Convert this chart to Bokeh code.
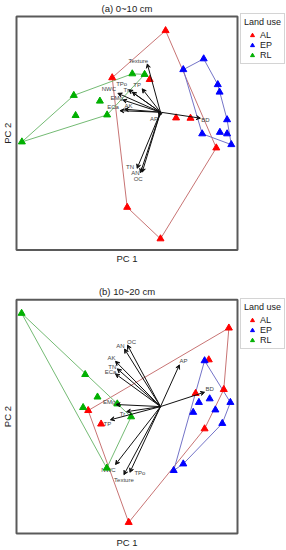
import math
from bokeh.plotting import figure
from bokeh.models import ColumnDataSource, Arrow, VeeHead, Legend, LegendItem, Range1d
from bokeh.embed import file_html
from bokeh.resources import INLINE
from bokeh.core.properties import value

# ---------------- data ----------------
groups = ["AL", "EP", "RL"]
variables = ["Texture", "TP", "TPo", "Tr", "NWC", "EMg", "ECa", "AK", "AP", "BD", "TN", "AN", "OC"]
titles = ["(a) 0~10 cm", "(b) 10~20 cm"]

# (a) 0~10 cm  -- PC scores
AL_a_x = [0.17, -1.61, -0.36, 0.52, 1.00, 1.86, -1.11, 0.00]
AL_a_y = [2.72, 1.15, 1.09, -0.19, -0.20, -1.19, -3.17, -4.22]
EP_a_x = [0.76, 1.44, 1.91, 1.97, 2.22, 1.98, 2.22, 1.39, 2.36]
EP_a_y = [1.42, 1.78, 0.92, 0.67, -0.25, -0.67, -0.72, -0.72, -1.08]
RL_a_x = [-0.94, -0.53, -2.89, -2.02, -2.83, -1.78, -4.62]
RL_a_y = [1.28, 1.26, 0.56, 0.37, -0.11, -0.09, -0.99]
load_a_x = [-0.44, -0.61, -1.06, -0.94, -1.42, -1.26, -1.35, -1.20, -0.05, 1.33, -0.78, -0.67, -0.61]
load_a_y = [1.61, 0.78, 0.75, 0.67, 0.63, 0.41, 0.05, 0.10, -0.14, -0.20, -1.87, -2.02, -2.00]

# (b) 10~20 cm
AL_b_x = [2.28, 1.61, 2.11, 1.17, -2.41, -1.98, 1.47, -1.06]
AL_b_y = [2.62, 1.56, 0.57, 0.44, -0.13, -0.58, -0.74, -3.86]
EP_b_x = [1.47, 1.28, 1.64, 2.33, 1.09, 1.83, 2.06, 0.76, 0.44]
EP_b_y = [1.53, 0.14, 0.26, 0.14, -0.19, -0.11, -0.56, -1.91, -2.13]
RL_b_x = [-4.63, -2.51, -2.10, -2.58, -1.44, -0.98, -1.79]
RL_b_y = [3.11, 1.07, 0.32, -0.03, 0.09, -0.34, -2.05]
load_b_x = [-1.22, -1.67, -1.02, -1.13, -1.50, -1.48, -1.50, -1.50, 0.63, 1.47, -1.44, -1.20, -1.10]
load_b_y = [-2.27, -0.44, -2.19, -0.17, -1.93, 0.07, 1.09, 1.51, 1.39, 0.48, 1.26, 1.92, 2.05]

# panel axis ranges (PC units)
X_RANGE = (-4.8, 2.567)
Y_RANGE_A = (-4.59, 3.19)
Y_RANGE_B = (-4.23, 3.56)

# ---------------- layout / styles ----------------
W, H = 286, 550                 # canvas (page 0..286, 0..550)
PX_L, PX_R = 16.0, 237.0        # x of the panel frames
A_TOP_PX, B_TOP_PX = 16.0, 299.3
SY = 30.0                       # px per PC unit, vertical
SX = (PX_R - PX_L) / (X_RANGE[1] - X_RANGE[0])

point_colors = {"AL": "#ff0000", "EP": "#0000ff", "RL": "#00b000"}
hull_colors = {"AL": "#c87474", "EP": "#7474c8", "RL": "#74bb74"}
lab_dx_a = [-9, -5, -7, -6, -9, -6, -7, 4, -5, 5, -7, -5, -4]
lab_dy_a = [-3, -4, -6, -2, -4, -2, -4, -3, 3, 2, -1, 0, 7]
lab_dx_b = [0, -3, 10, -4, -7, -7, -5, -4, 4, 5, -5, -4, 4]
lab_dy_b = [5, 4, 1, 2, 5, -3, -2, -3, -4, -3, -2, -3, -3]
FONT = "Liberation Sans"

origin_a_px = A_TOP_PX + Y_RANGE_A[1] * SY
origin_b_px = B_TOP_PX + Y_RANGE_B[1] * SY
shift_b = (origin_b_px - origin_a_px) / SY
fig_x = (X_RANGE[0] - PX_L / SX, X_RANGE[1] + (W - PX_R) / SX)
fig_y = ((origin_a_px - H) / SY, origin_a_px / SY)


def hull(xs, ys):
    pts = sorted(set(zip(xs, ys)))

    def cross(o, a, b):
        return (a[0] - o[0]) * (b[1] - o[1]) - (a[1] - o[1]) * (b[0] - o[0])

    lower, upper = [], []
    for q in pts:
        while len(lower) >= 2 and cross(lower[-2], lower[-1], q) <= 0:
            lower.pop()
        lower.append(q)
    for q in reversed(pts):
        while len(upper) >= 2 and cross(upper[-2], upper[-1], q) <= 0:
            upper.pop()
        upper.append(q)
    h = lower[:-1] + upper[:-1]
    h.append(h[0])
    return [q[0] for q in h], [q[1] for q in h]


p = figure(frame_width=W, frame_height=H, x_range=Range1d(*fig_x), y_range=Range1d(*fig_y),
           output_backend="svg", toolbar_location=None, x_axis_type=None, y_axis_type=None,
           min_border=0, min_border_left=0, min_border_right=0, min_border_top=0,
           min_border_bottom=0)
p.outline_line_color = None
p.background_fill_color = "white"
p.border_fill_color = "white"

# panel frames
tops = [Y_RANGE_A[1], Y_RANGE_B[1] - shift_b]
bots = [Y_RANGE_A[0], Y_RANGE_B[0] - shift_b]
p.quad(left=[X_RANGE[0]] * 2, right=[X_RANGE[1]] * 2, top=tops, bottom=bots,
       fill_color=None, line_color="#5a5a5a", line_width=2)

# titles and axis labels
xc = (X_RANGE[0] + X_RANGE[1]) / 2
txt = dict(text_font=value(FONT), text_font_size="9.5px", text_color="#222222",
           text_align="center", text_baseline="middle")
p.text(x=[xc, xc], y=tops, text=titles, y_offset=-8, **txt)
p.text(x=[xc, xc], y=bots, text=["PC 1", "PC 1"], y_offset=9, **txt)
p.text(x=[X_RANGE[0]] * 2, y=[(t + b) / 2 for t, b in zip(tops, bots)], text=["PC 2", "PC 2"],
       x_offset=-9, angle=math.pi / 2, **txt)

panels = [
    ({"AL": (AL_a_x, AL_a_y), "EP": (EP_a_x, EP_a_y), "RL": (RL_a_x, RL_a_y)},
     load_a_x, load_a_y, lab_dx_a, lab_dy_a, 0.0, 240, 486),
    ({"AL": (AL_b_x, AL_b_y), "EP": (EP_b_x, EP_b_y), "RL": (RL_b_x, RL_b_y)},
     load_b_x, load_b_y, lab_dx_b, lab_dy_b, shift_b, 240, 201),
]

for pts, lx, ly, dx, dy, sh, leg_x, leg_y in panels:
    for g in groups:
        hx, hy = hull(pts[g][0], [v - sh for v in pts[g][1]])
        p.line(hx, hy, line_color=hull_colors[g], line_width=1)

    src = ColumnDataSource(dict(x0=[0.0] * len(lx), y0=[-sh] * len(lx), x1=lx,
                                y1=[v - sh for v in ly], name=variables, dx=dx, dy=dy))
    p.add_layout(Arrow(x_start="x0", y_start="y0", x_end="x1", y_end="y1", source=src,
                       line_color="#111111", line_width=1,
                       end=VeeHead(size=4, line_color="#111111", line_width=1)))
    p.text(x="x1", y="y1", text="name", source=src, x_offset="dx", y_offset="dy",
           text_font=value(FONT), text_font_size="6px", text_color="#444444",
           text_align="center", text_baseline="middle")

    rends = {}
    for g in groups:
        rends[g] = p.scatter(pts[g][0], [v - sh for v in pts[g][1]], marker="triangle", size=7,
                             fill_color=point_colors[g], line_color=point_colors[g])

    legend = Legend(items=[LegendItem(label=g, renderers=[rends[g]]) for g in groups],
                    title="Land use", location=(leg_x, leg_y))
    legend.title_text_font = FONT
    legend.title_text_font_size = "9px"
    legend.title_text_font_style = "normal"
    legend.title_text_color = "#222222"
    legend.label_text_font = FONT
    legend.label_text_font_size = "9px"
    legend.label_text_color = "#222222"
    legend.glyph_width = 16
    legend.glyph_height = 10
    legend.label_height = 10
    legend.label_width = 12
    legend.label_standoff = 0
    legend.spacing = 0
    legend.padding = 3
    legend.margin = 0
    legend.title_standoff = 3
    legend.border_line_color = "#aaaaaa"
    legend.border_line_width = 1
    p.add_layout(legend)

open("out.html", "w").write(file_html(p, INLINE))
